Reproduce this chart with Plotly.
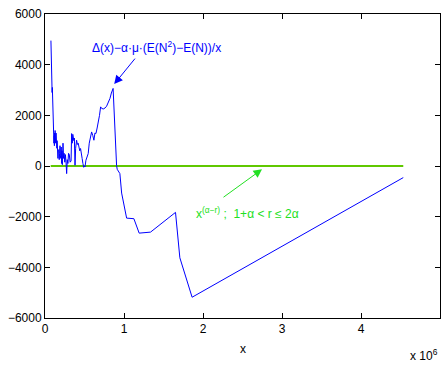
import plotly.graph_objects as go

# x positions in units of 10^6, y values of the difference curve
x_mil = [0.075, 0.078, 0.080, 0.082, 0.084, 0.086, 0.088, 0.090, 0.093, 0.096,
         0.100, 0.103, 0.106, 0.108, 0.110, 0.113, 0.116, 0.119, 0.122, 0.125,
         0.128, 0.131, 0.134, 0.137, 0.140, 0.143, 0.146, 0.150, 0.153, 0.157,
         0.160, 0.164, 0.168, 0.172, 0.176, 0.180, 0.185, 0.190, 0.195, 0.200,
         0.205, 0.210, 0.215, 0.220, 0.228, 0.235, 0.242, 0.250, 0.258, 0.265,
         0.274, 0.282, 0.290, 0.298, 0.307, 0.318, 0.330, 0.337, 0.345, 0.352,
         0.358, 0.365, 0.372, 0.380, 0.388, 0.395, 0.400, 0.410, 0.420, 0.430,
         0.440, 0.450, 0.460, 0.470, 0.480, 0.490, 0.500, 0.506, 0.518, 0.532,
         0.547, 0.560, 0.575, 0.590, 0.605, 0.619, 0.632, 0.645, 0.660, 0.674,
         0.690, 0.704, 0.715, 0.737, 0.760, 0.780, 0.800, 0.822, 0.840, 0.862,
         0.906, 0.914, 0.948, 0.970, 1.033, 1.125, 1.192, 1.336, 1.652, 1.707,
         1.862, 4.535]
y_diff = [4950, 4100, 4600, 3700, 4200, 3300, 3500, 2900, 3100, 2500,
          2200, 1700, 1900, 1300, 1500, 900, 1200, 800, 1300, 1000,
          1400, 900, 1350, 1100, 1300, 800, 1100, 700, 1000, 500,
          700, 300, 600, 400, 650, 250, 500, 800, 400, 300,
          750, 100, 600, 50, 900, 300, 500, 150, 450, 200,
          -300, 250, 100, 500, 460, 150, 200, 1280, 900, 1250,
          1150, 1000, 1100, 30, 700, 1000, 1017, 850, 900, 750,
          600, 690, 400, 300, 100, -50, 0, -40, 225, 350,
          490, 900, 1100, 1345, 1200, 1017, 1300, 1282, 1500, 1677,
          2000, 2334, 2280, 2250, 2290, 2361, 2500, 2666, 2880, 3062,
          28, -130, -300, -1068, -2057, -2080, -2650, -2610, -1831, -3623,
          -5180, -458]

# reference power-law curve, flat at this scale
x_ref = [0.072, 4.535]
y_ref = [0, 0]

x_ticks = [0, 1, 2, 3, 4, 5]
y_ticks = [-6000, -4000, -2000, 0, 2000, 4000, 6000]

BLUE = "#0000FF"
GREEN_LINE = "#60C800"
GREEN_TEXT = "#22E022"
FONT = "Liberation Sans, Arial, sans-serif"

fig = go.Figure()
fig.add_trace(go.Scatter(x=x_ref, y=y_ref, mode="lines",
                         line=dict(color=GREEN_LINE, width=2), showlegend=False))
fig.add_trace(go.Scatter(x=x_mil, y=y_diff, mode="lines",
                         line=dict(color=BLUE, width=1), showlegend=False))

axis_common = dict(showgrid=False, zeroline=False, showline=True, linecolor="black",
                   linewidth=1, mirror="ticks", ticks="inside", ticklen=5,
                   tickcolor="black", tickfont=dict(family=FONT, size=12, color="black"))

fig.update_xaxes(range=[0, 5], tickvals=x_ticks, ticktext=[str(v) for v in x_ticks],
                 **axis_common)
fig.update_yaxes(range=[-6000, 6000], tickvals=y_ticks, **axis_common)

annotations = [
    # labels
    dict(x=1.416, y=4695, xref="x", yref="y", showarrow=False,
         text="\u0394(x)\u2212\u03b1\u00b7\u03bc\u00b7(E(N<sup>2</sup>)\u2212E(N))/x",
         font=dict(family=FONT, size=12, color=BLUE)),
    dict(x=2.56, y=-1870, xref="x", yref="y", showarrow=False,
         text="x<sup>(\u03b1\u2212r)</sup> ;  1+\u03b1 < r \u2264 2\u03b1",
         font=dict(family=FONT, size=12, color=GREEN_TEXT)),
    # arrows
    dict(x=0.876, y=3232, xref="x", yref="y", text="", showarrow=True,
         ax=22, ay=-27, arrowhead=2, arrowsize=1.7, arrowwidth=1, arrowcolor=BLUE),
    dict(x=2.747, y=-130, xref="x", yref="y", text="", showarrow=True,
         ax=-40, ay=29, arrowhead=2, arrowsize=1.7, arrowwidth=1, arrowcolor=GREEN_TEXT),
    # axis label and exponent
    dict(x=0.5, y=0, xref="paper", yref="paper", yanchor="middle", yshift=-31,
         showarrow=False, text="x", font=dict(family=FONT, size=12, color="black")),
    dict(x=1, y=0, xref="paper", yref="paper", xanchor="right", yanchor="middle",
         yshift=-37, showarrow=False, text="x 10<sup>6</sup>",
         font=dict(family=FONT, size=12, color="black")),
]

fig.update_layout(width=443, height=367, margin=dict(l=45, r=3, t=14, b=49),
                  paper_bgcolor="white", plot_bgcolor="white",
                  annotations=annotations)

fig.write_html("out.html")
